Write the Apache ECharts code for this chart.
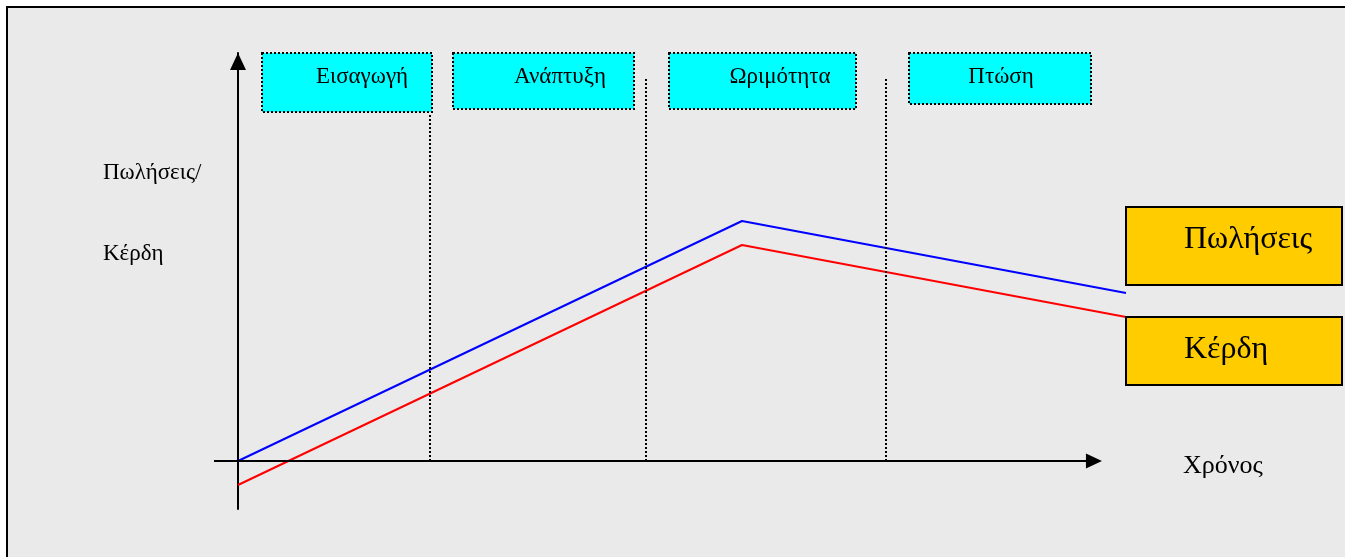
<!DOCTYPE html>
<html>
<head>
<meta charset="utf-8">
<script src="https://cdn.jsdelivr.net/npm/echarts@6/dist/echarts.min.js"></script>
<style>
  html, body { margin: 0; padding: 0; background: #ffffff; }
  #panel {
    position: absolute; left: 6px; top: 6px; width: 1339px; height: 551px;
    box-sizing: border-box; border-top: 2px solid #000; border-left: 2px solid #000;
    background: #eaeaea;
  }
  #chart { position: absolute; left: 0; top: 0; width: 1345px; height: 557px; }
</style>
</head>
<body>
<div id="panel"></div>
<div id="chart"></div>
<script>
// Product life cycle: sales and profit over time
const timePoints = [0, 42, 74];
const salesValues = [0, 60, 42];
const profitValues = [-6, 54, 36];
const stageNames = ['Εισαγωγή', 'Ανάπτυξη', 'Ωριμότητα', 'Πτώση'];
const stageBoundaries = [16, 34, 54];
const boundaryTops = [87, 96, 96];
const seriesNames = ['Πωλήσεις', 'Κέρδη'];
const yAxisTitle = ['Πωλήσεις/', 'Κέρδη'];
const xAxisTitle = 'Χρόνος';

// time-axis range: the drawn arrow stops short of the last period
const timeMin = -2;
const timeMax = 74;
const timeArrowEnd = 71.33;

const SERIF = "'Liberation Serif', 'Times New Roman', serif";

const toPairs = (xs, ys) => xs.map((x, i) => [x, ys[i]]);

// Stage caption boxes along the top
const stageBoxes = [
  { x: 262, y: 53, w: 170, h: 59, cx: 362 },
  { x: 453, y: 53, w: 181, h: 56, cx: 560 },
  { x: 669, y: 53, w: 187, h: 56, cx: 780 },
  { x: 909, y: 53, w: 182, h: 51, cx: 1001 }
];
// Series name boxes on the right
const nameBoxes = [
  { x: 1126, y: 207, w: 216, h: 78, tx: 1184, ty: 240 },
  { x: 1126, y: 317, w: 216, h: 68, tx: 1184, ty: 350 }
];

const graphics = [];
stageBoxes.forEach((b, i) => {
  graphics.push({
    type: 'rect', z: 10,
    shape: { x: b.x, y: b.y, width: b.w, height: b.h },
    style: { fill: '#00ffff', stroke: '#000', lineWidth: 2, lineDash: [2, 2] }
  });
  graphics.push({
    type: 'text', z: 11, x: b.cx, y: 77,
    style: { text: stageNames[i], font: '23px ' + SERIF, fill: '#000', textAlign: 'center', textVerticalAlign: 'middle' }
  });
});
nameBoxes.forEach((b, i) => {
  graphics.push({
    type: 'rect', z: 10,
    shape: { x: b.x, y: b.y, width: b.w, height: b.h },
    style: { fill: '#ffcc00', stroke: '#000', lineWidth: 2 }
  });
  graphics.push({
    type: 'text', z: 11, x: b.tx, y: b.ty,
    style: { text: seriesNames[i], font: '32px ' + SERIF, fill: '#000', textAlign: 'left', textVerticalAlign: 'middle' }
  });
});
graphics.push({
  type: 'text', x: 103, y: 173,
  style: { text: yAxisTitle[0], font: '23px ' + SERIF, fill: '#000', textAlign: 'left', textVerticalAlign: 'middle' }
});
graphics.push({
  type: 'text', x: 103, y: 254,
  style: { text: yAxisTitle[1], font: '23px ' + SERIF, fill: '#000', textAlign: 'left', textVerticalAlign: 'middle' }
});
graphics.push({
  type: 'text', x: 1183, y: 466,
  style: { text: xAxisTitle, font: '26px ' + SERIF, fill: '#000', textAlign: 'left', textVerticalAlign: 'middle' }
});

const chart = echarts.init(document.getElementById('chart'), null, { renderer: 'canvas' });

const boundaryLines = stageBoundaries.map((x, i) => [
  { coord: [x, 0], lineStyle: { color: '#000', width: 2, type: [2, 2] }, symbol: 'none' },
  { coord: [x, boundaryTops[i]], symbol: 'none' }
]);

// horizontal time axis with its arrow head
const timeAxisLine = [
  { coord: [timeMin, 0], symbol: 'none', lineStyle: { color: '#000', width: 2, type: 'solid' } },
  { coord: [timeArrowEnd, 0], symbol: 'triangle', symbolSize: [15, 16] }
];

chart.setOption({
  backgroundColor: 'transparent',
  animation: false,
  grid: { left: 214, right: 219, top: 53, bottom: 48, containLabel: false },
  xAxis: {
    type: 'value', min: timeMin, max: timeMax,
    axisLine: { show: false },
    axisTick: { show: false }, axisLabel: { show: false }, splitLine: { show: false }
  },
  yAxis: {
    type: 'value', min: -12, max: 102,
    axisLine: {
      show: true, onZero: true,
      symbol: ['none', 'triangle'], symbolSize: [16, 17], symbolOffset: [0, -8.5],
      lineStyle: { color: '#000', width: 2 }
    },
    axisTick: { show: false }, axisLabel: { show: false }, splitLine: { show: false }
  },
  series: [
    {
      name: seriesNames[0], type: 'line', clip: false, symbol: 'none',
      data: toPairs(timePoints, salesValues),
      lineStyle: { color: '#0000ff', width: 2 },
      markLine: {
        silent: true, symbol: ['none', 'none'], label: { show: false },
        itemStyle: { color: '#000' },
        data: boundaryLines.concat([timeAxisLine])
      },
      z: 3
    },
    {
      name: seriesNames[1], type: 'line', clip: false, symbol: 'none',
      data: toPairs(timePoints, profitValues),
      lineStyle: { color: '#ff0000', width: 2 },
      z: 3
    }
  ],
  graphic: graphics
});
</script>
</body>
</html>
